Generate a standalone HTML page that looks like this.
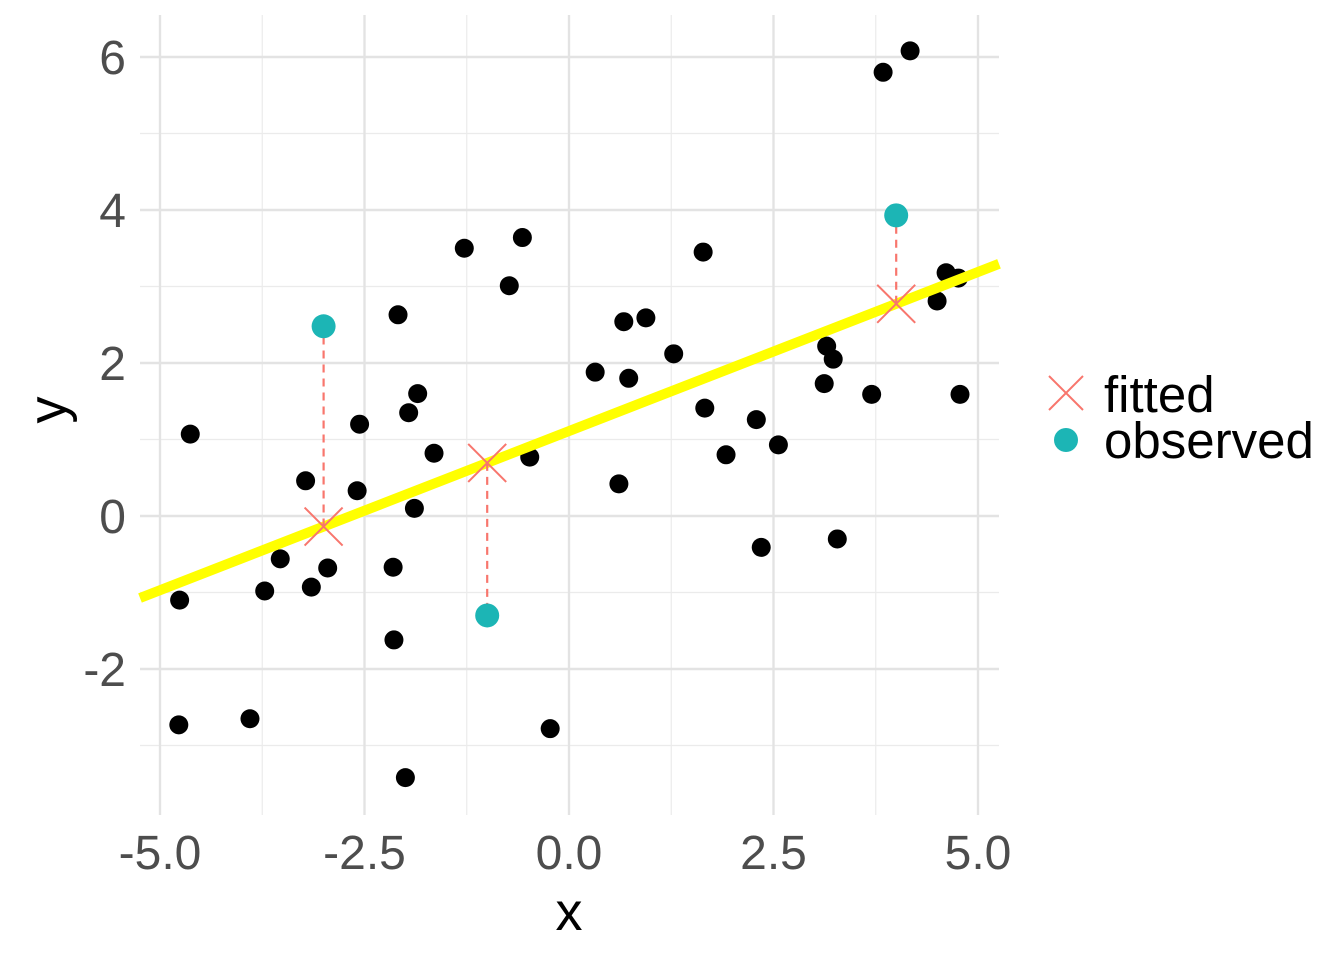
<!DOCTYPE html>
<html><head><meta charset="utf-8"><style>
body{margin:0;background:#fff}
svg{display:block;font-family:"Liberation Sans",Arial,sans-serif}
</style></head><body>
<svg id="chart" width="1344" height="960">
<rect width="1344" height="960" fill="#fff"/>
<g id="grid"></g>
<g id="marks"></g>
<g id="axes"></g>
<text x="569" y="930" font-size="54" text-anchor="middle" fill="#000">x</text>
<text x="0" y="0" font-size="54" text-anchor="middle" fill="#000" transform="translate(66,410) rotate(-90)">y</text>
<g>
<g>
<path d="M1049,376 L1083,410 M1083,376 L1049,410" stroke="#F8766D" stroke-width="2"/>
<text x="1104" y="412" font-size="51" fill="#000">fitted</text>
</g>
<g>
<circle cx="1066" cy="440" r="12" fill="#1CB5B5"/>
<text x="1104" y="458" font-size="51" fill="#000">observed</text>
</g>
</g>
</svg>
<script>
const xs=[-4.63,-4.76,-4.77,-3.90,-3.72,-3.53,-3.22,-3.15,-2.95,-2.59,-2.56,-2.15,-2.14,-2.09,-2.00,-1.96,-1.89,-1.85,-1.65,-1.28,-0.73,-0.57,-0.48,-0.23,0.32,0.61,0.67,0.73,0.94,1.28,1.64,1.66,1.92,2.29,2.35,2.56,3.12,3.15,3.23,3.28,3.70,3.84,4.17,4.50,4.61,4.76,4.78];
const ys=[1.07,-1.10,-2.73,-2.65,-0.98,-0.56,0.46,-0.93,-0.68,0.33,1.20,-0.67,-1.62,2.63,-3.42,1.35,0.10,1.60,0.82,3.50,3.01,3.64,0.77,-2.78,1.88,0.42,2.54,1.80,2.59,2.12,3.45,1.41,0.80,1.26,-0.41,0.93,1.73,2.22,2.05,-0.30,1.59,5.80,6.08,2.81,3.18,3.11,1.59];
const obsX=[-3,-1,4];
const obsY=[2.48,-1.30,3.93];
const slope=0.416, intercept=1.11;
const xTicks=[-5,-2.5,0,2.5,5];
const xTickLabels=["-5.0","-2.5","0.0","2.5","5.0"];
const yTicks=[-2,0,2,4,6];
const yTickLabels=["-2","0","2","4","6"];
const xMinor=[-3.75,-1.25,1.25,3.75];
const yMinor=[-3,-1,1,3,5];

const L=140,R=999,T=15,B=815;
const sx=v=>569+v*81.8, sy=v=>516-v*76.5;
const NS="http://www.w3.org/2000/svg";
function mk(tag,parent,attrs){const e=document.createElementNS(NS,tag);for(const k in attrs)e.setAttribute(k,attrs[k]);document.getElementById(parent).appendChild(e);return e;}
xMinor.forEach(v=>{const e=mk('line','grid',{x1:sx(v),x2:sx(v),y1:T,y2:B,stroke:'#ebebeb','stroke-width':1.2});

});
yMinor.forEach(v=>{const e=mk('line','grid',{x1:L,x2:R,y1:sy(v),y2:sy(v),stroke:'#ebebeb','stroke-width':1.2});

});
xTicks.forEach((v,i)=>{const e=mk('line','grid',{x1:sx(v),x2:sx(v),y1:T,y2:B,stroke:'#e3e3e3','stroke-width':2.4});


const t=mk('text','axes',{x:sx(v),y:869,'font-size':48,'text-anchor':'middle',fill:'#4d4d4d'});t.textContent=xTickLabels[i];

});
yTicks.forEach((v,i)=>{const e=mk('line','grid',{x1:L,x2:R,y1:sy(v),y2:sy(v),stroke:'#e3e3e3','stroke-width':2.4});


const t=mk('text','axes',{x:126,y:sy(v)+17,'font-size':48,'text-anchor':'end',fill:'#4d4d4d'});t.textContent=yTickLabels[i];

});
xs.forEach((v,i)=>{const c=mk('circle','marks',{cx:sx(v),cy:sy(ys[i]),r:9.5,fill:'#000'});

});
const x0=(L-569)/81.8,x1=(R-569)/81.8;
const ln=mk('line','marks',{x1:L,x2:R,y1:sy(intercept+slope*x0),y2:sy(intercept+slope*x1),stroke:'#FFFF00','stroke-width':10});


obsX.forEach((v,i)=>{const fy=intercept+slope*v;
const d=mk('line','marks',{x1:sx(v),x2:sx(v),y1:sy(fy),y2:sy(obsY[i]),stroke:'#F8766D','stroke-width':2.2,'stroke-dasharray':'8,6'});


const c=mk('circle','marks',{cx:sx(v),cy:sy(obsY[i]),r:12,fill:'#1CB5B5'});


const X=sx(v),Y=sy(fy);
const p=mk('path','marks',{d:`M${X-19},${Y-19}L${X+19},${Y+19}M${X+19},${Y-19}L${X-19},${Y+19}`,stroke:'#F8766D','stroke-width':2,fill:'none'});

});
</script>
</body></html>
